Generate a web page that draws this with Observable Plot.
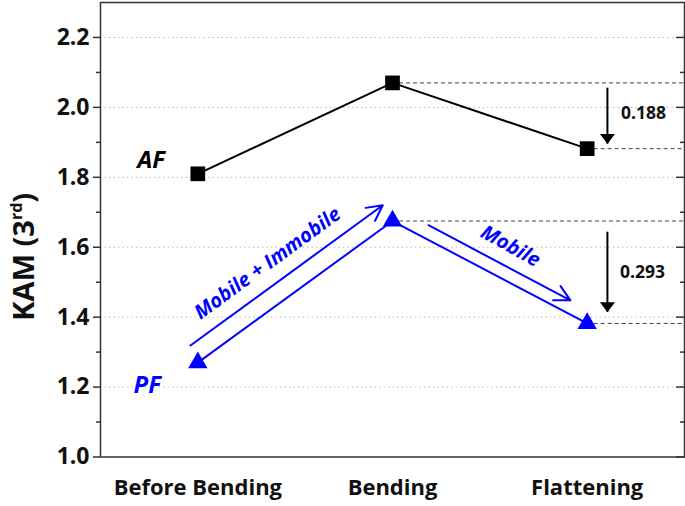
<!DOCTYPE html>
<html>
<head>
<meta charset="utf-8">
<script src="https://cdn.jsdelivr.net/npm/d3@7"></script>
<script src="https://cdn.jsdelivr.net/npm/@observablehq/plot@0.6"></script>
<style>
  html, body { margin: 0; padding: 0; background: #fff; }
  svg { display: block; }
</style>
</head>
<body>
<div id="chart"></div>
<script>
// ---- data ----
const categories = ["Before Bending", "Bending", "Flattening"];
const stageIndex = [0, 1, 2];
const afValues = [1.81, 2.07, 1.882];
const pfValues = [1.27, 1.675, 1.382];

const yTicks = [1.0, 1.2, 1.4, 1.6, 1.8, 2.0, 2.2];
const yMinorTicks = [1.1, 1.3, 1.5, 1.7, 1.9, 2.1];
const gridTicks = [1.2, 1.4, 1.6, 1.8, 2.0, 2.2];

const seriesNames = ["AF", "PF"];
const seriesColors = ["#000000", "#0000ff"];
const seriesLabelX = [-0.24, -0.26];
const seriesLabelY = [1.849, 1.205];

// dashed reference lines (from a stage to the right edge)
const refStart = [1, 2, 1, 2];
const refValue = [2.07, 1.882, 1.675, 1.382];

// blue process arrows
const processLabels = ["Mobile + Immobile", "Mobile"];
const processX1 = [-0.038, 1.185];
const processY1 = [1.319, 1.663];
const processX2 = [0.95, 1.914];
const processY2 = [1.72, 1.448];
const processTextX = [0.358, 1.606];
const processTextY = [1.554, 1.603];
const processAngle = [-36, 29];

// black drop arrows
const dropLabels = ["0.188", "0.293"];
const dropX = [2.104, 2.104];
const dropY1 = [2.055, 1.643];
const dropY2 = [1.895, 1.414];
const dropTextX = [2.289, 2.284];
const dropTextY = [1.983, 1.528];

const yLabel = "KAM (3rd)";

// ---- tables ----
const af = stageIndex.map(i => ({x: i, y: afValues[i]}));
const pf = stageIndex.map(i => ({x: i, y: pfValues[i]}));
const refs = refValue.map((v, i) => ({x1: refStart[i], x2: 2.5, y: v}));
const seriesLbl = seriesNames.map((s, i) => ({x: seriesLabelX[i], y: seriesLabelY[i], text: s, color: seriesColors[i]}));
const processArrows = processLabels.map((s, i) => ({x1: processX1[i], y1: processY1[i], x2: processX2[i], y2: processY2[i]}));
const processText = processLabels.map((s, i) => ({x: processTextX[i], y: processTextY[i], text: s, angle: processAngle[i]}));
const drops = dropLabels.map((s, i) => ({x: dropX[i], y1: dropY1[i], y2: dropY2[i]}));
const dropText = dropLabels.map((s, i) => ({x: dropTextX[i], y: dropTextY[i], text: s}));

const blue = "#0000ff";
const downHead = {
  draw(ctx) {
    ctx.moveTo(-7.5, -10);
    ctx.lineTo(7.5, -10);
    ctx.lineTo(0, 0);
    ctx.closePath();
  }
};

const chart = Plot.plot({
  width: 685,
  height: 506,
  marginLeft: 100,
  marginRight: 1,
  marginTop: 2,
  marginBottom: 49.5,
  style: {fontFamily: "'Open Sans', Lato, sans-serif", background: "white", overflow: "visible"},
  x: {domain: [-0.5, 2.5]},
  y: {domain: [1.0, 2.3]},
  marks: [
    Plot.gridY(gridTicks, {stroke: "#bbbbbb", strokeOpacity: 1, strokeDasharray: "1.5,3"}),
    Plot.ruleY(refs, {y: "y", x1: "x1", x2: "x2", stroke: "#444", strokeWidth: 1, strokeDasharray: "4,3"}),
    Plot.frame({stroke: "#333", strokeWidth: 1.5}),
    Plot.axisY(yTicks, {tickSize: 7, tickPadding: 4, tickFormat: d3.format(".1f"), fontSize: 23, fontWeight: "bold", fill: "#111", stroke: "#333", strokeWidth: 1.5, label: null}),
    Plot.axisY(yMinorTicks, {tickSize: 4, tickFormat: () => "", stroke: "#333", strokeWidth: 1.5, label: null}),
    Plot.axisY(yTicks, {anchor: "right", tickSize: 9, dx: -9, tickFormat: () => "", stroke: "#333", strokeWidth: 1.5, label: null}),
    Plot.axisY(yMinorTicks, {anchor: "right", tickSize: 5, dx: -5, tickFormat: () => "", stroke: "#333", strokeWidth: 1.5, label: null}),
    Plot.axisX(stageIndex, {tickSize: 0, tickPadding: 22, tickFormat: i => categories[i], fontSize: 22, fontWeight: "bold", fill: "#111", label: null}),
    Plot.line(af, {x: "x", y: "y", stroke: "#000", strokeWidth: 2}),
    Plot.dot(af, {x: "x", y: "y", symbol: "square", r: 8.3, fill: "#000"}),
    Plot.line(pf, {x: "x", y: "y", stroke: blue, strokeWidth: 2}),
    Plot.dot(pf, {x: "x", y: "y", symbol: "triangle", r: 7.2, fill: blue}),
    Plot.arrow(processArrows, {x1: "x1", y1: "y1", x2: "x2", y2: "y2", stroke: blue, strokeWidth: 2, headLength: 13, headAngle: 55}),
    Plot.ruleX(drops, {x: "x", y1: "y1", y2: "y2", stroke: "#000", strokeWidth: 2}),
    Plot.dot(drops, {x: "x", y: "y2", symbol: downHead, fill: "#000", stroke: "none"}),
    Plot.text(seriesLbl, {x: "x", y: "y", text: "text", fill: "color", fontSize: 24, fontWeight: "bold", fontStyle: "italic"}),
    Plot.text(processText, {x: "x", y: "y", text: "text", rotate: "angle", fill: blue, fontSize: 20, fontWeight: "bold", fontStyle: "italic"}),
    Plot.text(dropText, {x: "x", y: "y", text: "text", fill: "#111", fontSize: 17.5, fontWeight: "bold"}),
    Plot.text([yLabel], {frameAnchor: "left", textAnchor: "middle", dx: -76, dy: 27, rotate: -90, fontSize: 29, fontWeight: "bold", fill: "#111"})
  ]
});

// superscript "rd" in the axis title
const lbl = [...chart.querySelectorAll("text")].find(e => e.textContent === yLabel);
if (lbl) {
  const ns = "http://www.w3.org/2000/svg";
  lbl.textContent = "";
  const a = document.createElementNS(ns, "tspan"); a.textContent = "KAM (3";
  const b = document.createElementNS(ns, "tspan"); b.textContent = "rd"; b.setAttribute("font-size", "16"); b.setAttribute("dy", "-12");
  const c = document.createElementNS(ns, "tspan"); c.textContent = ")"; c.setAttribute("dy", "12");
  lbl.append(a, b, c);
}

document.getElementById("chart").append(chart);
</script>
</body>
</html>
